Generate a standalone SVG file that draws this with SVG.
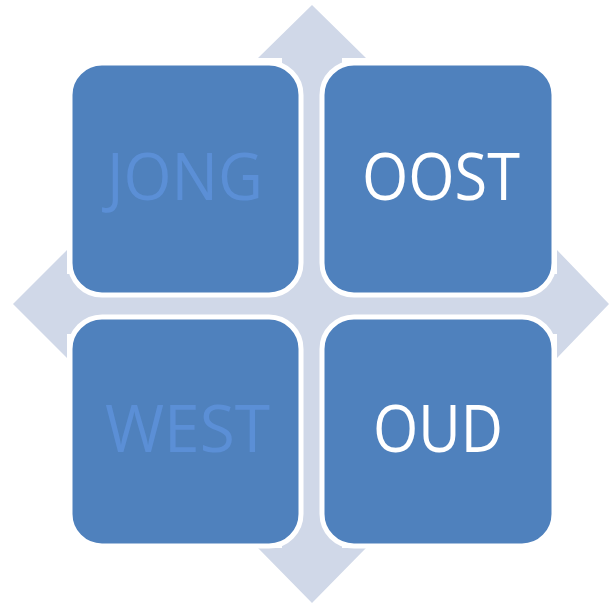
<svg xmlns="http://www.w3.org/2000/svg" width="609" height="606" viewBox="0 0 609 606">
<style>
.box{fill:#4F81BD;stroke:#FFFFFF;stroke-width:5}
.lbl{font-family:"Open Sans","Liberation Sans",sans-serif;font-size:66px;text-anchor:middle}
.w{fill:#FFFFFF}
.f{fill:#5B8FD6}
</style>
<g id="arrows">
<path fill="#D0D8E8" d="M312,5 L366,58 L342,58 L342,274 L557,274 L557,250 L609,304 L557,358 L557,334 L342,334 L342,548 L366,548 L312,603 L258,548 L282,548 L282,334 L67,334 L67,358 L13,304 L67,250 L67,274 L282,274 L282,58 L258,58 Z"/>
</g>
<g id="jong">
<rect class="box" x="70" y="63" width="231" height="232" rx="32"/>
<text class="lbl f" x="185" y="200" textLength="156" lengthAdjust="spacingAndGlyphs">JONG</text>
</g>
<g id="oost">
<rect class="box" x="322" y="63" width="232" height="232" rx="32"/>
<text class="lbl w" x="441" y="200" textLength="158" lengthAdjust="spacingAndGlyphs">OOST</text>
</g>
<g id="west">
<rect class="box" x="70" y="317" width="231" height="229" rx="32"/>
<text class="lbl f" x="187.5" y="452" textLength="165" lengthAdjust="spacingAndGlyphs">WEST</text>
</g>
<g id="oud">
<rect class="box" x="322" y="317" width="232" height="229" rx="32"/>
<text class="lbl w" x="438" y="452" textLength="130" lengthAdjust="spacingAndGlyphs">OUD</text>
</g>
</svg>
